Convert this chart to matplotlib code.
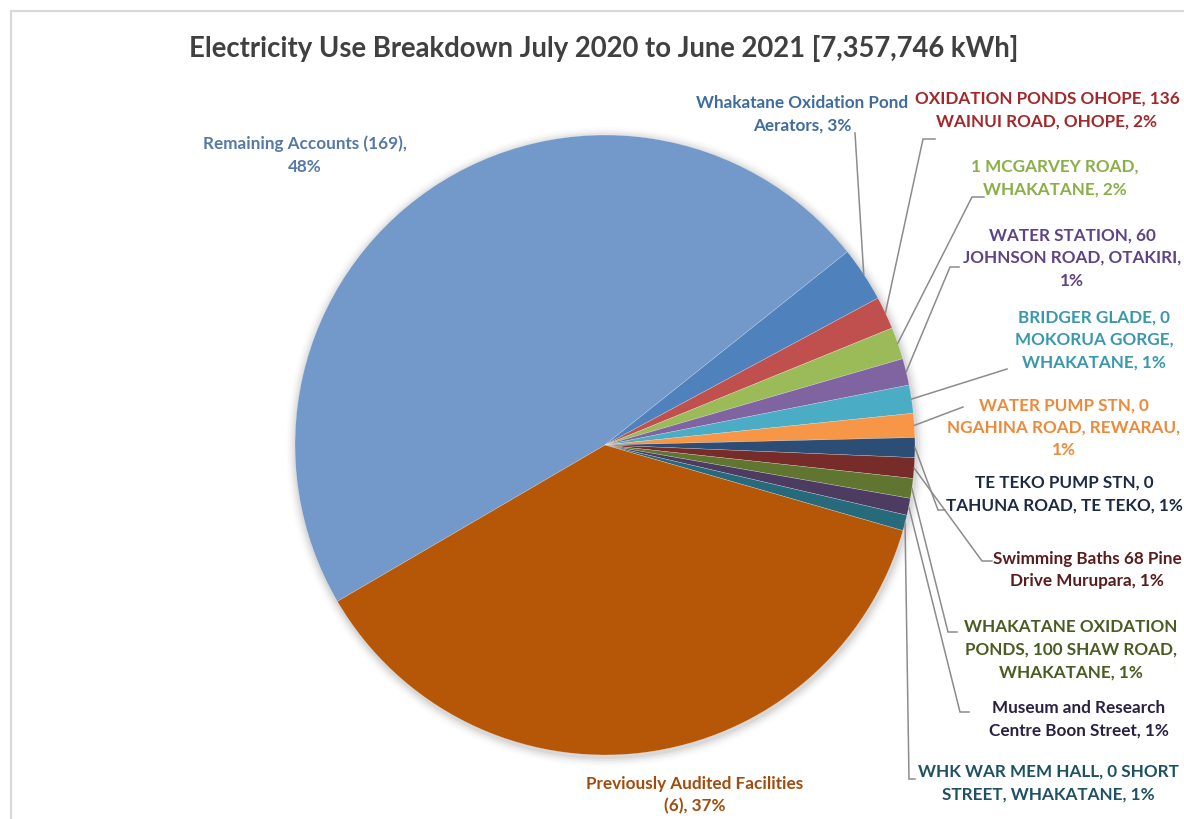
import matplotlib.pyplot as plt
import numpy as np

plt.rcParams['font.family'] = ['Lato', 'DejaVu Sans']

# kWh per account group, July 2020 - June 2021 (clockwise from the left)
sites = [
    'Remaining Accounts (169),\n{p}%',
    'Whakatane Oxidation Pond\nAerators, {p}%',
    'OXIDATION PONDS OHOPE, 136\nWAINUI ROAD, OHOPE, {p}%',
    '1 MCGARVEY ROAD,\nWHAKATANE, {p}%',
    'WATER STATION, 60\nJOHNSON ROAD, OTAKIRI,\n{p}%',
    'BRIDGER GLADE, 0\nMOKORUA GORGE,\nWHAKATANE, {p}%',
    'WATER PUMP STN, 0\nNGAHINA ROAD, REWARAU,\n{p}%',
    'TE TEKO PUMP STN, 0\nTAHUNA ROAD, TE TEKO, {p}%',
    'Swimming Baths 68 Pine\nDrive Murupara, {p}%',
    'WHAKATANE OXIDATION\nPONDS, 100 SHAW ROAD,\nWHAKATANE, {p}%',
    'Museum and Research\nCentre Boon Street, {p}%',
    'WHK WAR MEM HALL, 0 SHORT\nSTREET, WHAKATANE, {p}%',
    'Previously Audited Facilities\n(6), {p}%',
]
kwh = [3510000, 210000, 125000, 123000, 102000, 108000, 92000,
       76000, 79000, 76000, 65000, 60000, 2731746]

slice_colors = ['#7299C9', '#4F81BD', '#C0504D', '#9BBB59', '#8064A2',
                '#4BACC6', '#F79646', '#2C4D75', '#772C2A', '#5F7530',
                '#4D3B62', '#276A7C', '#B65708']
text_colors = ['#5578A8', '#3F6C9E', '#A3282B', '#8AAF47', '#5E4485',
               '#3A98AE', '#EC8A3C', '#1C2A45', '#5B1C1C', '#4B5C22',
               '#2A2142', '#1E5263', '#A14C0C']

# label centres and leader elbows in pixel units (y measured from the top)
label_xy = [(305, 155), (802, 114), (1047, 110), (1055, 178), (1072, 258),
            (1094, 340), (1064, 428), (1064, 494), (1087, 570), (1071, 650),
            (1079, 719), (1048, 783), (695, 795)]
elbows = [None, ((855, 134), None), ((923, 140), 935), ((972, 198), 984),
          ((950, 268), 959), ((1007, 370), None), ((963, 408), None),
          ((938, 511), 945), ((982, 562), 992), ((948, 633), 957),
          ((960, 713), 969), ((909, 780), 915), None]

W, H = 1184, 820
cx, cy, r = 605, 446, 310

fig = plt.figure(figsize=(W / 100, H / 100), dpi=100)
ax = fig.add_axes([0, 0, 1, 1])

# soft drop shadow under the pie
for i, a in enumerate([0.05, 0.04, 0.03, 0.02, 0.01]):
    ax.add_patch(plt.Circle((cx + 1, H - cy - 2), r + 2 + 2 * i,
                            color='#000000', alpha=a, lw=0, zorder=0))

total = sum(kwh)
wedges, _ = ax.pie(kwh, colors=slice_colors, startangle=210.3,
                   counterclock=False, center=(cx, H - cy), radius=r,
                   frame=True,
                   wedgeprops=dict(edgecolor=(1, 1, 1, 0.5), linewidth=0.3))
ax.set_xlim(0, W)
ax.set_ylim(0, H)
ax.set_aspect('equal')
ax.axis('off')

for w, val, fmt, (lx, ly), tc, el in zip(wedges, kwh, sites, label_xy,
                                          text_colors, elbows):
    p = round(100 * val / total)
    ax.text(lx, H - ly, fmt.format(p=p), ha='center', va='center',
            fontsize=12.3, fontweight='bold', color=tc, linespacing=1.5,
            zorder=5)
    if el is None:
        continue
    mid = np.deg2rad((w.theta1 + w.theta2) / 2)
    sx, sy = cx + r * np.cos(mid), (H - cy) + r * np.sin(mid)
    (ex, ey), tick = el
    xs, ys = [sx, ex], [sy, H - ey]
    if tick is not None:
        xs.append(tick)
        ys.append(H - ey)
    ax.plot(xs, ys, color='#8C8C8C', lw=1.1, zorder=4,
            solid_joinstyle='miter')

ax.text(604, H - 48, 'Electricity Use Breakdown July 2020 to June 2021 [7,357,746 kWh]',
        ha='center', va='center', fontsize=19.8, fontweight='bold',
        color='#404040')

# chart area border
ax.plot([11, 11, W + 5], [-5, H - 12, H - 12], color='#D9D9D9', lw=1.6,
        zorder=6, clip_on=False)

fig.savefig('out.png', dpi=100, facecolor='white')
